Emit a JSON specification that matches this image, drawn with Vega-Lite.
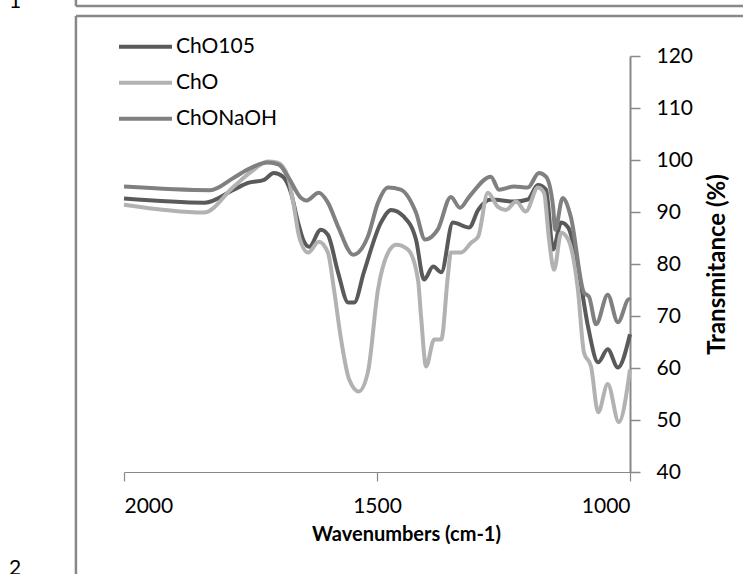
{
  "$schema": "https://vega.github.io/schema/vega-lite/v6.json",
  "width": 506,
  "height": 416,
  "autosize": {"type": "none"},
  "padding": {"left": 124, "top": 56, "right": 113, "bottom": 102},
  "background": "white",
  "config": {
    "view": {"stroke": null},
    "font": "Lato",
    "axis": {"labelFont": "Lato", "titleFont": "Lato", "labelColor": "#000", "titleColor": "#000", "grid": false}
  },
  "layer": [
    {
      "data": {"values": [
        {"s":"ChO105","w":2000,"t":92.6},{"s":"ChO105","w":1840,"t":91.8},{"s":"ChO105","w":1783,"t":94.3},{"s":"ChO105","w":1755,"t":95.6},{"s":"ChO105","w":1723,"t":96.2},{"s":"ChO105","w":1704,"t":97.5},{"s":"ChO105","w":1686,"t":96.8},{"s":"ChO105","w":1670,"t":93.7},{"s":"ChO105","w":1656,"t":88.0},{"s":"ChO105","w":1646,"t":84.7},{"s":"ChO105","w":1634,"t":83.3},{"s":"ChO105","w":1611,"t":86.6},{"s":"ChO105","w":1597,"t":85.6},{"s":"ChO105","w":1577,"t":78.4},{"s":"ChO105","w":1557,"t":72.6},{"s":"ChO105","w":1545,"t":72.6},{"s":"ChO105","w":1526,"t":78.4},{"s":"ChO105","w":1492,"t":88.0},{"s":"ChO105","w":1472,"t":90.4},{"s":"ChO105","w":1447,"t":89.1},{"s":"ChO105","w":1423,"t":84.7},{"s":"ChO105","w":1407,"t":77.0},{"s":"ChO105","w":1389,"t":79.5},{"s":"ChO105","w":1373,"t":78.4},{"s":"ChO105","w":1350,"t":88.0},{"s":"ChO105","w":1318,"t":87.0},{"s":"ChO105","w":1300,"t":90.4},{"s":"ChO105","w":1275,"t":92.4},{"s":"ChO105","w":1229,"t":92.0},{"s":"ChO105","w":1202,"t":92.4},{"s":"ChO105","w":1182,"t":95.2},{"s":"ChO105","w":1166,"t":94.3},{"s":"ChO105","w":1152,"t":82.8},{"s":"ChO105","w":1136,"t":88.0},{"s":"ChO105","w":1122,"t":87.0},{"s":"ChO105","w":1103,"t":79.5},{"s":"ChO105","w":1083,"t":68.0},{"s":"ChO105","w":1063,"t":61.1},{"s":"ChO105","w":1044,"t":63.6},{"s":"ChO105","w":1024,"t":60.1},{"s":"ChO105","w":1000,"t":66.5},
        {"s":"ChO","w":2000,"t":91.4},{"s":"ChO","w":1842,"t":89.9},{"s":"ChO","w":1783,"t":94.9},{"s":"ChO","w":1749,"t":97.7},{"s":"ChO","w":1716,"t":99.7},{"s":"ChO","w":1696,"t":99.5},{"s":"ChO","w":1676,"t":96.8},{"s":"ChO","w":1664,"t":91.0},{"s":"ChO","w":1654,"t":85.3},{"s":"ChO","w":1636,"t":82.2},{"s":"ChO","w":1615,"t":84.3},{"s":"ChO","w":1597,"t":82.2},{"s":"ChO","w":1585,"t":75.1},{"s":"ChO","w":1571,"t":65.5},{"s":"ChO","w":1555,"t":57.8},{"s":"ChO","w":1536,"t":55.5},{"s":"ChO","w":1518,"t":59.2},{"s":"ChO","w":1498,"t":75.1},{"s":"ChO","w":1478,"t":82.2},{"s":"ChO","w":1462,"t":83.7},{"s":"ChO","w":1439,"t":82.8},{"s":"ChO","w":1419,"t":77.0},{"s":"ChO","w":1413,"t":70.0},{"s":"ChO","w":1403,"t":60.3},{"s":"ChO","w":1387,"t":65.5},{"s":"ChO","w":1373,"t":65.5},{"s":"ChO","w":1360,"t":77.6},{"s":"ChO","w":1354,"t":82.2},{"s":"ChO","w":1334,"t":82.2},{"s":"ChO","w":1314,"t":84.1},{"s":"ChO","w":1300,"t":85.3},{"s":"ChO","w":1281,"t":93.7},{"s":"ChO","w":1261,"t":91.0},{"s":"ChO","w":1245,"t":90.4},{"s":"ChO","w":1225,"t":92.0},{"s":"ChO","w":1206,"t":90.1},{"s":"ChO","w":1182,"t":94.7},{"s":"ChO","w":1170,"t":93.7},{"s":"ChO","w":1160,"t":84.7},{"s":"ChO","w":1150,"t":78.9},{"s":"ChO","w":1136,"t":86.0},{"s":"ChO","w":1122,"t":84.7},{"s":"ChO","w":1103,"t":75.1},{"s":"ChO","w":1091,"t":63.0},{"s":"ChO","w":1077,"t":60.3},{"s":"ChO","w":1063,"t":51.5},{"s":"ChO","w":1044,"t":56.9},{"s":"ChO","w":1022,"t":49.6},{"s":"ChO","w":1000,"t":59.7},
        {"s":"ChONaOH","w":2000,"t":94.9},{"s":"ChONaOH","w":1830,"t":94.2},{"s":"ChONaOH","w":1783,"t":96.6},{"s":"ChONaOH","w":1749,"t":98.5},{"s":"ChONaOH","w":1716,"t":99.5},{"s":"ChONaOH","w":1694,"t":99.1},{"s":"ChONaOH","w":1676,"t":96.8},{"s":"ChONaOH","w":1650,"t":92.7},{"s":"ChONaOH","w":1640,"t":92.2},{"s":"ChONaOH","w":1615,"t":93.7},{"s":"ChONaOH","w":1597,"t":91.8},{"s":"ChONaOH","w":1577,"t":87.2},{"s":"ChONaOH","w":1547,"t":81.8},{"s":"ChONaOH","w":1518,"t":85.3},{"s":"ChONaOH","w":1498,"t":91.8},{"s":"ChONaOH","w":1478,"t":94.7},{"s":"ChONaOH","w":1453,"t":94.3},{"s":"ChONaOH","w":1423,"t":89.9},{"s":"ChONaOH","w":1405,"t":84.7},{"s":"ChONaOH","w":1380,"t":86.6},{"s":"ChONaOH","w":1354,"t":92.9},{"s":"ChONaOH","w":1336,"t":90.8},{"s":"ChONaOH","w":1318,"t":92.9},{"s":"ChONaOH","w":1275,"t":96.8},{"s":"ChONaOH","w":1259,"t":94.3},{"s":"ChONaOH","w":1229,"t":94.9},{"s":"ChONaOH","w":1202,"t":94.7},{"s":"ChONaOH","w":1180,"t":97.5},{"s":"ChONaOH","w":1166,"t":96.8},{"s":"ChONaOH","w":1152,"t":91.0},{"s":"ChONaOH","w":1148,"t":86.6},{"s":"ChONaOH","w":1133,"t":92.7},{"s":"ChONaOH","w":1117,"t":89.1},{"s":"ChONaOH","w":1091,"t":74.5},{"s":"ChONaOH","w":1081,"t":73.7},{"s":"ChONaOH","w":1067,"t":68.4},{"s":"ChONaOH","w":1044,"t":74.1},{"s":"ChONaOH","w":1024,"t":68.8},{"s":"ChONaOH","w":1002,"t":73.2},{"s":"ChONaOH","w":1000,"t":73.0}
      ]},
      "mark": {"type": "line", "strokeWidth": 4, "interpolate": "monotone"},
      "encoding": {
        "x": {"field": "w", "type": "quantitative",
          "scale": {"domain": [1000, 2000], "reverse": true, "nice": false, "zero": false},
          "axis": {"values": [2000, 1500, 1000], "format": "d", "title": "Wavenumbers (cm-1)", "titleFontWeight": "bold", "titleFontSize": 20, "titlePadding": 8, "titleX": 282, "titleAlign": "center",
            "labelFontSize": 21, "labelPadding": 14, "tickSize": 9, "tickColor": "#888", "domainColor": "#888", "domainWidth": 1.2, "tickWidth": 1.2}},
        "y": {"field": "t", "type": "quantitative",
          "scale": {"domain": [40, 120], "nice": false, "zero": false},
          "axis": {"orient": "right", "values": [40, 50, 60, 70, 80, 90, 100, 110, 120], "title": "Transmitance (%)", "titleAngle": 270, "titleFontWeight": "bold", "titleFontSize": 24, "titlePadding": 37,
            "labelFontSize": 21, "labelPadding": 16, "tickSize": 10, "tickColor": "#888", "domainColor": "#888", "domainWidth": 2, "tickWidth": 1.5}},
        "color": {"field": "s", "type": "nominal",
          "scale": {"domain": ["ChO105", "ChO", "ChONaOH"], "range": ["#5a5a5a", "#b2b2b2", "#808080"]},
          "legend": {"title": null, "orient": "none", "legendX": -7, "legendY": -27, "symbolType": "stroke", "symbolSize": 2809, "symbolStrokeWidth": 4, "labelFontSize": 21, "labelFont": "Lato", "labelColor": "#000", "labelOffset": 2, "rowPadding": 0, "clipHeight": 35.5}}
      }
    },
    {
      "data": {"values": [{}]},
      "mark": {"type": "rule", "stroke": "#888", "strokeWidth": 2.5},
      "encoding": {"x": {"datum": 2095, "type": "quantitative"}, "y": {"datum": 127.7, "type": "quantitative"}, "y2": {"datum": 10}}
    },
    {
      "data": {"values": [{}]},
      "mark": {"type": "rule", "stroke": "#888", "strokeWidth": 2.5},
      "encoding": {"y": {"datum": 127.7, "type": "quantitative"}, "x": {"datum": 2095, "type": "quantitative"}, "x2": {"datum": 700}}
    },
    {
      "data": {"values": [{}]},
      "mark": {"type": "rule", "stroke": "#888", "strokeWidth": 2.5},
      "encoding": {"y": {"datum": 129.6, "type": "quantitative"}, "x": {"datum": 2095, "type": "quantitative"}, "x2": {"datum": 700}}
    },
    {
      "data": {"values": [{}]},
      "mark": {"type": "rule", "stroke": "#888", "strokeWidth": 2.5},
      "encoding": {"x": {"datum": 2095, "type": "quantitative"}, "y": {"datum": 129.6, "type": "quantitative"}, "y2": {"datum": 135}}
    },
    {
      "data": {"values": [{"n": "1", "w": 2215, "t": 130.3}, {"n": "2", "w": 2215, "t": 21.3}]},
      "mark": {"type": "text", "font": "Lato", "fontSize": 21, "color": "#000", "align": "center", "baseline": "middle"},
      "encoding": {"text": {"field": "n"}, "x": {"field": "w", "type": "quantitative"}, "y": {"field": "t", "type": "quantitative"}}
    }
  ]
}
